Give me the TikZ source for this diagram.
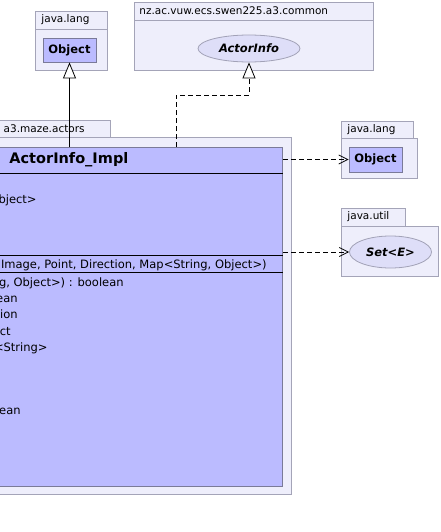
\documentclass[tikz,border=0pt]{standalone}
\usepackage{fontspec}
\setmainfont{DejaVu Sans}
\usetikzlibrary{arrows.meta, shapes.geometric}
\definecolor{pkgfill}{HTML}{EEEEFB}
\definecolor{pkgline}{HTML}{A4A4B8}
\definecolor{clsfill}{HTML}{BBBBFF}
\definecolor{clsline}{HTML}{7A7A98}
\definecolor{ifcfill}{HTML}{DEDEF8}

\begin{document}
\begin{tikzpicture}[x=1pt, y=-1pt, line width=0.8pt,
  pkg/.style={draw=pkgline, fill=pkgfill},
  pkgname/.style={anchor=west, inner sep=0pt, font=\fontsize{10.5}{13}\selectfont},
  cls/.style={draw=clsline, fill=clsfill, inner sep=0pt},
  ifc/.style={ellipse, draw=clsline!70, fill=ifcfill, inner sep=0pt, font=\fontsize{11.5}{14}\selectfont\bfseries\itshape},
  member/.style={anchor=base east, inner sep=0pt, font=\fontsize{11.5}{14}\selectfont},
  inherit/.style={-{Triangle[open, fill=white, length=16pt, width=13pt]}},
  uses/.style={dash pattern=on 5pt off 3pt, -{Straight Barb[length=9pt, width=9pt]}}]
  \useasboundingbox (0,0) rectangle (441,532);
  \clip (0,0) rectangle (441,532);
  % packages
  \draw[pkg] (35,11) rectangle (107,29);
  \draw[pkg] (35,29) rectangle (107,70);
  \node[pkgname] (langA) at (41,20) {java.lang};
  \draw[pkg] (134,2) rectangle (373,20);
  \draw[pkg] (134,20) rectangle (373,70);
  \node[pkgname] (common) at (139,11) {nz.ac.vuw.ecs.swen225.a3.common};
  \draw[pkg] (-20,120) rectangle (110,137);
  \draw[pkg] (-20,137) rectangle (291,494);
  \node[pkgname, anchor=east] (actors) at (85,129) {a3.maze.actors};
  \draw[pkg] (341,121) rectangle (413,138);
  \draw[pkg] (341,138) rectangle (417,178);
  \node[pkgname] (langB) at (347,130) {java.lang};
  \draw[pkg] (341,208) rectangle (405,226);
  \draw[pkg] (341,226) rectangle (438,276);
  \node[pkgname] (util) at (347,217) {java.util};
  % types
  \node[cls, minimum width=53, minimum height=24, font=\fontsize{11.5}{14}\selectfont\bfseries] (objA) at (69.5,50) {Object};
  \node[ifc, minimum width=102, minimum height=27] (info) at (249,48.5) {ActorInfo};
  \node[cls, minimum width=53, minimum height=25, font=\fontsize{11.5}{14}\selectfont\bfseries] (objB) at (375.5,159.5) {Object};
  \node[ifc, minimum width=82, minimum height=32] (set) at (390.5,252) {Set<E>};
  \node[cls, minimum width=303, minimum height=339, anchor=north east] (impl) at (283,147) {};
  \node[anchor=west, inner sep=0pt, font=\fontsize{14.5}{17}\selectfont\bfseries] (title) at (9,160) {ActorInfo\_Impl};
  \draw (-20,173) -- (impl.east |- 0,173);
  \draw (-20,255.5) -- (impl.east |- 0,255.5);
  \draw (-20,272) -- (impl.east |- 0,272);
  \node[member] at (37,203) {bject>};
  \node[member] at (267,268) {Image, Point, Direction, Map<String, Object>)};
  \node[member] at (124,286) {g, Object>) : boolean};
  \node[member] at (18,302) {ean};
  \node[member] at (18,318.5) {tion};
  \node[member] at (11,335) {ct};
  \node[member] at (48,351) {<String>};
  \node[member] at (21,414.5) {ean};
  % connectors
  \coordinate (bend) at (176,95);
  \draw[inherit] (impl.north -| objA) -- (objA.south);
  \draw[inherit, dash pattern=on 5pt off 3pt] (impl.north -| bend) -- (bend) -| (info.south);
  \draw[uses] (impl.east |- objB) -- (objB.west);
  \draw[uses] (impl.east |- set) -- (set.west);
\end{tikzpicture}
\end{document}
